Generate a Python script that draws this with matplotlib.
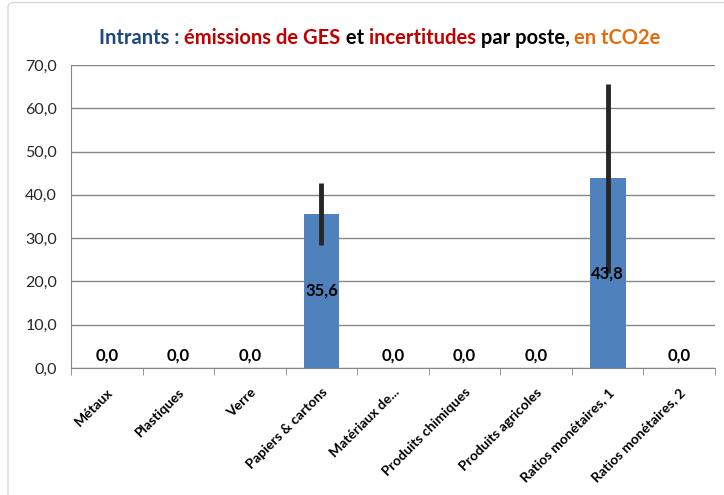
import numpy as np
import matplotlib
matplotlib.use("Agg")
import matplotlib.pyplot as plt
from matplotlib.patches import FancyBboxPatch

# donnees
postes = ["Métaux", "Plastiques", "Verre", "Papiers & cartons", "Matériaux de...",
          "Produits chimiques", "Produits agricoles", "Ratios monétaires, 1",
          "Ratios monétaires, 2"]
emissions = [0.0, 0.0, 0.0, 35.6, 0.0, 0.0, 0.0, 43.8, 0.0]
incertitudes = [0.0, 0.0, 0.0, 7.2, 0.0, 0.0, 0.0, 21.8, 0.0]
yticks = [0, 10, 20, 30, 40, 50, 60, 70]

plt.rcParams['font.family'] = ['Lato', 'DejaVu Sans']

fig = plt.figure(figsize=(7.24, 4.95), dpi=100)
W, H = 724, 495
ax = fig.add_axes([71 / W, 1 - 368 / H, (715 - 71) / W, (368 - 65) / H])

# cadre du graphique
fig.patches.append(FancyBboxPatch((8 / W, -0.05), 1.2, 1.045, boxstyle="round,pad=0,rounding_size=0.01",
                                  transform=fig.transFigure, fill=False, ec="#d9d9d9", lw=1))

x = np.arange(len(postes))
ax.bar(x, emissions, width=0.5, color="#4F81BD", zorder=3)
err = [e if e > 0 else np.nan for e in incertitudes]
ax.errorbar(x, emissions, yerr=err, fmt="none", ecolor="#262626", elinewidth=3.5, capsize=0, zorder=4)

for xi, v in zip(x, emissions):
    if v > 0:
        ax.text(xi, v / 2, f"{v:.1f}".replace(".", ","), ha="center", va="center",
                fontsize=12, fontweight="bold", color="black", zorder=5)
    else:
        ax.text(xi, 1.0, f"{v:.1f}".replace(".", ","), ha="center", va="bottom",
                fontsize=12, fontweight="bold", color="black", zorder=5)

ax.set_xlim(-0.5, len(postes) - 0.5)
ax.set_ylim(0, 70)
ax.set_yticks(yticks)
ax.set_yticklabels([f"{t:.1f}".replace(".", ",") for t in yticks], fontsize=11.5, color="#262626")
ax.yaxis.grid(True, color="#868686", lw=1, zorder=0)
ax.tick_params(axis="y", length=0, pad=10)

ax.set_xticks(x)
ax.set_xticklabels(postes, rotation=45, ha="right", rotation_mode="anchor",
                   fontsize=10, fontweight="bold", color="black")
ax.set_xticks(np.arange(len(postes) + 1) - 0.5, minor=True)
ax.tick_params(axis="x", which="major", length=0, pad=13)
ax.tick_params(axis="x", which="minor", length=5, color="#868686", direction="out")

for s in ["top", "right"]:
    ax.spines[s].set_visible(False)
ax.spines["left"].set_color("#868686")
ax.spines["bottom"].set_color("#868686")

# titre en plusieurs couleurs
morceaux = [("Intrants : ", "#1F497D"), ("émissions de GES", "#C00000"), (" et ", "black"),
            ("incertitudes", "#C00000"), (" par poste, ", "black"), ("en tCO2e", "#E46C0A")]
fig.canvas.draw()
renderer = fig.canvas.get_renderer()
textes = []
for s, c in morceaux:
    t = fig.text(0, 1 - 38 / H, s, fontsize=14.5, fontweight="bold", color=c, va="center", ha="left")
    textes.append(t)
largeurs = [t.get_window_extent(renderer).width for t in textes]
total = sum(largeurs)
x0 = (380 - total / 2)
for t, w in zip(textes, largeurs):
    t.set_x(x0 / W)
    x0 += w

fig.savefig("out.png", dpi=100)
